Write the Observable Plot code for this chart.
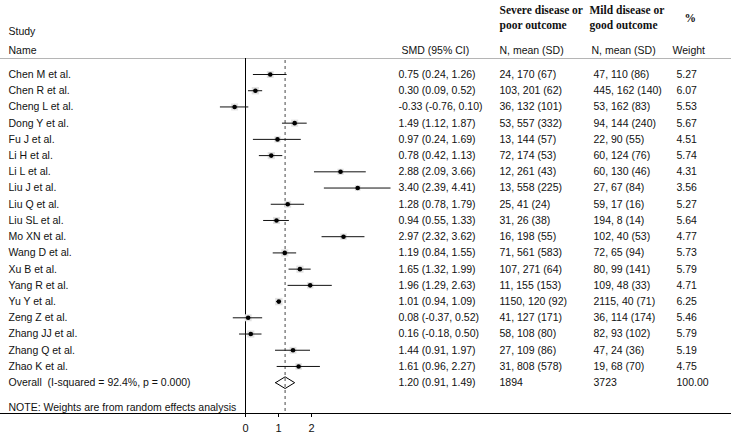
<!DOCTYPE html>
<html><head><meta charset="utf-8">
<script src="https://cdn.jsdelivr.net/npm/d3@7"></script>
<script src="https://cdn.jsdelivr.net/npm/@observablehq/plot@0.6"></script>
<style>body{margin:0;background:#fff}#chart svg{display:block}</style>
</head><body><div id="chart"></div>
<script>
// ---- data ----
const studies = ["Chen M et al.","Chen R et al.","Cheng L et al.","Dong Y et al.","Fu J et al.","Li H et al.","Li L et al.","Liu J et al.","Liu Q et al.","Liu SL et al.","Mo XN et al.","Wang D et al.","Xu B et al.","Yang R et al.","Yu Y et al.","Zeng Z et al.","Zhang JJ et al.","Zhang Q et al.","Zhao K et al."];
const smd    = [0.75,0.30,-0.33,1.49,0.97,0.78,2.88,3.40,1.28,0.94,2.97,1.19,1.65,1.96,1.01,0.08,0.16,1.44,1.61];
const ciLow  = [0.24,0.09,-0.76,1.12,0.24,0.42,2.09,2.39,0.78,0.55,2.32,0.84,1.32,1.29,0.94,-0.37,-0.18,0.91,0.96];
const ciHigh = [1.26,0.52,0.10,1.87,1.69,1.13,3.66,4.41,1.79,1.33,3.62,1.55,1.99,2.63,1.09,0.52,0.50,1.97,2.27];
const severeStats = ["24, 170 (67)","103, 201 (62)","36, 132 (101)","53, 557 (332)","13, 144 (57)","72, 174 (53)","12, 261 (43)","13, 558 (225)","25, 41 (24)","31, 26 (38)","16, 198 (55)","71, 561 (583)","107, 271 (64)","11, 155 (153)","1150, 120 (92)","41, 127 (171)","58, 108 (80)","27, 109 (86)","31, 808 (578)"];
const mildStats   = ["47, 110 (86)","445, 162 (140)","53, 162 (83)","94, 144 (240)","22, 90 (55)","60, 124 (76)","60, 130 (46)","27, 67 (84)","59, 17 (16)","194, 8 (14)","102, 40 (53)","72, 65 (94)","80, 99 (141)","109, 48 (33)","2115, 40 (71)","36, 114 (174)","82, 93 (102)","47, 24 (36)","19, 68 (70)"];
const weights = [5.27,6.07,5.53,5.67,4.51,5.74,4.31,3.56,5.27,5.64,4.77,5.73,5.79,4.71,6.25,5.46,5.79,5.19,4.75];
const overallLabel = "Overall\u00a0 (I-squared = 92.4%, p = 0.000)";
const overallSmd = 1.20, overallLow = 0.91, overallHigh = 1.49;
const overallSevereN = "1894", overallMildN = "3723", overallWeight = "100.00";
const noteText = "NOTE: Weights are from random effects analysis";
const xTicks = [0, 1, 2];
const headStudy = "Study", headName = "Name", headSmd = "SMD (95% CI)";
const headSevere = "Severe disease or\npoor outcome", headMild = "Mild disease or\ngood outcome";
const headNMean = "N, mean (SD)", headPct = "%", headWeight = "Weight";

// ---- layout ----
const W = 731, H = 434, MB = 21;
const x0px = 245, unit = 33;
const xDomain = [-x0px / unit, (W - x0px) / unit];
const row0 = 74, rowH = 16.22;
const yDomain = [-row0 / rowH, (H - MB - row0) / rowH];
const pxToRow = px => yDomain[0] + px / rowH;

const f2 = v => v.toFixed(2);
const rows = studies.map((s, i) => ({
  i, study: s, smd: smd[i], lo: ciLow[i], hi: ciHigh[i],
  ci: `${f2(smd[i])} (${f2(ciLow[i])}, ${f2(ciHigh[i])})`,
  severe: severeStats[i], mild: mildStats[i], w: f2(weights[i]), wv: weights[i]
}));
const oi = studies.length;
const overallRow = {i: oi, study: overallLabel, ci: `${f2(overallSmd)} (${f2(overallLow)}, ${f2(overallHigh)})`,
  severe: overallSevereN, mild: overallMildN, w: overallWeight};
const tableRows = [...rows, overallRow];
const dh = 0.36;
const diamond = [
  {x: overallLow, y: oi}, {x: overallSmd, y: oi - dh}, {x: overallHigh, y: oi},
  {x: overallSmd, y: oi + dh}, {x: overallLow, y: oi}
];

const sans = "'Liberation Sans', Arial, Helvetica, sans-serif";
const serif = "'Liberation Serif', 'Times New Roman', serif";
const FS = 10.5;
const txt = (data, dx, text) => Plot.text(data, {y: "i", text, frameAnchor: "left", dx, textAnchor: "start", fontSize: FS, fill: "#111"});
const head = (t, dx, dy, opts = {}) => Plot.text([t], {text: d => d, frameAnchor: "top-left", dx, dy, textAnchor: "start", fontSize: FS, fill: "#111", ...opts});

const chart = Plot.plot({
  width: W, height: H,
  marginTop: 0, marginLeft: 0, marginRight: 0, marginBottom: MB,
  style: {fontFamily: sans, background: "#fff"},
  x: {domain: xDomain, axis: null},
  y: {domain: yDomain, axis: null, reverse: true},
  r: {domain: [0, 6.25], range: [0, 4.2]},
  marks: [
    Plot.ruleY([pxToRow(58)], {stroke: "#b5b5b5", strokeWidth: 1}),
    Plot.ruleX([0], {y1: pxToRow(58), y2: yDomain[1], stroke: "#000", strokeWidth: 1}),
    Plot.ruleX([overallSmd], {y1: pxToRow(60), y2: yDomain[1], stroke: "#666", strokeWidth: 1.2, strokeDasharray: "3,3"}),
    Plot.ruleY([yDomain[1]], {stroke: "#000", strokeWidth: 1}),
    Plot.dot(rows, {x: "smd", y: "i", r: "wv", symbol: "square", fill: "#e2e2e2"}),
    Plot.ruleY(rows, {y: "i", x1: "lo", x2: "hi", stroke: "#111", strokeWidth: 1}),
    Plot.dot(rows, {x: "smd", y: "i", r: 2.3, fill: "#000"}),
    Plot.line(diamond, {x: "x", y: "y", stroke: "#000", strokeWidth: 1}),
    txt(tableRows, 8, "study"),
    txt(tableRows, 398, "ci"),
    txt(tableRows, 499, "severe"),
    txt(tableRows, 593, "mild"),
    txt(tableRows, 676, "w"),
    Plot.text([noteText], {text: d => d, frameAnchor: "left", y: pxToRow(407), dx: 8, textAnchor: "start", fontSize: FS, fill: "#111"}),
    head(headStudy, 8, 27),
    head(headName, 8, 46),
    head(headSmd, 401, 46),
    head(headNMean, 499, 46),
    head(headNMean, 591, 46),
    head(headWeight, 672, 46),
    head(headSevere, 499, 3, {lineAnchor: "top", fontFamily: serif, fontWeight: "bold", fontSize: 11.5, lineHeight: 1.3}),
    head(headMild, 589, 3, {lineAnchor: "top", fontFamily: serif, fontWeight: "bold", fontSize: 11.5, lineHeight: 1.3}),
    head(headPct, 684, 13, {fontFamily: serif, fontWeight: "bold", fontSize: 11.5}),
    Plot.axisX({ticks: xTicks, tickSize: 4, tickPadding: 7, fontSize: 11, tickFormat: d => String(d), anchor: "bottom", stroke: "#000", color: "#111"})
  ]
});
document.getElementById("chart").append(chart);
</script>
</body></html>
